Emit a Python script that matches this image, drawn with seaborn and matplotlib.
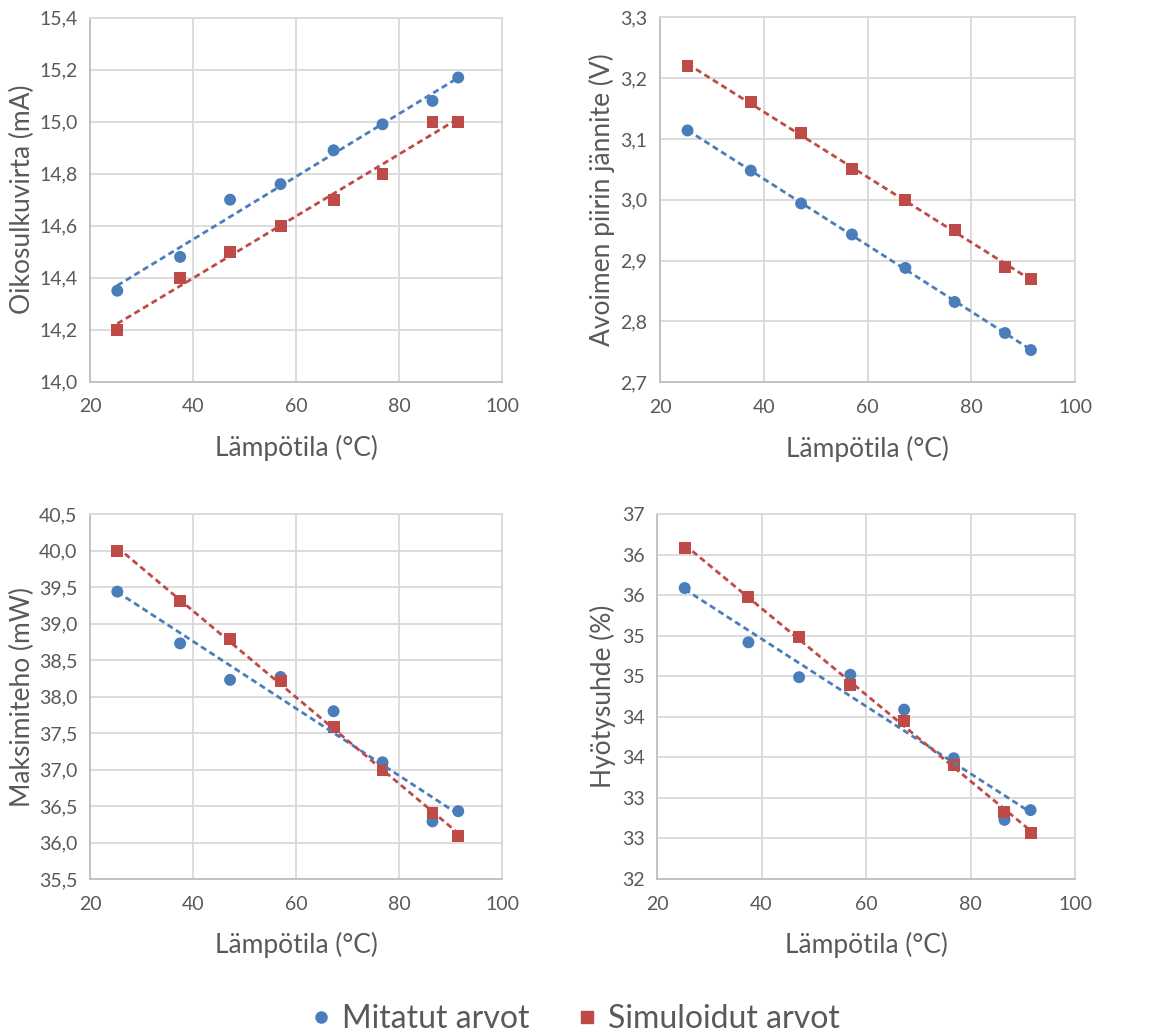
import numpy as np
import pandas as pd
import matplotlib
matplotlib.use("Agg")
import matplotlib.pyplot as plt
from matplotlib.lines import Line2D
import seaborn as sns

# ---------------- data ----------------
temps = [25.3, 37.5, 47.2, 57.0, 67.3, 76.8, 86.5, 91.5]

isc_measured = [14.35, 14.48, 14.70, 14.76, 14.89, 14.99, 15.08, 15.17]
isc_simulated = [14.20, 14.40, 14.50, 14.60, 14.70, 14.80, 15.00, 15.00]

voc_measured = [3.114, 3.048, 2.994, 2.943, 2.888, 2.832, 2.781, 2.753]
voc_simulated = [3.22, 3.16, 3.11, 3.05, 3.00, 2.95, 2.89, 2.87]

pmax_measured = [39.44, 38.73, 38.23, 38.27, 37.80, 37.10, 36.29, 36.43]
pmax_simulated = [40.00, 39.31, 38.79, 38.21, 37.59, 37.00, 36.41, 36.09]

eff_measured = [35.59, 34.92, 34.49, 34.52, 34.09, 33.49, 32.73, 32.85]
eff_simulated = [36.09, 35.48, 34.99, 34.39, 33.95, 33.41, 32.83, 32.57]

series_names = ["Mitatut arvot", "Simuloidut arvot"]
x_label = "Lämpötila (°C)"
y_labels = ["Oikosulkuvirta (mA)", "Avoimen piirin jännite (V)",
            "Maksimiteho (mW)", "Hyötysuhde (%)"]

x_ticks = [20, 40, 60, 80, 100]
y_ticks_1 = [14.0, 14.2, 14.4, 14.6, 14.8, 15.0, 15.2, 15.4]
y_tick_labels_1 = ["14,0", "14,2", "14,4", "14,6", "14,8", "15,0", "15,2", "15,4"]
y_ticks_2 = [2.7, 2.8, 2.9, 3.0, 3.1, 3.2, 3.3]
y_tick_labels_2 = ["2,7", "2,8", "2,9", "3,0", "3,1", "3,2", "3,3"]
y_ticks_3 = [35.5, 36.0, 36.5, 37.0, 37.5, 38.0, 38.5, 39.0, 39.5, 40.0, 40.5]
y_tick_labels_3 = ["35,5", "36,0", "36,5", "37,0", "37,5", "38,0", "38,5",
                   "39,0", "39,5", "40,0", "40,5"]
y_ticks_4 = [32.0, 32.5, 33.0, 33.5, 34.0, 34.5, 35.0, 35.5, 36.0, 36.5]
y_tick_labels_4 = ["32", "33", "33", "34", "34", "35", "35", "36", "36", "37"]

# ---------------- style ----------------
sns.set_theme(style="white")
plt.rcParams["font.family"] = ["Lato", "DejaVu Sans"]

blue = "#4A7EBB"
red = "#BE4B48"
text_color = "#595959"
grid_color = "#D9D9D9"
palette = {series_names[0]: blue, series_names[1]: red}
markers = {series_names[0]: "o", series_names[1]: "s"}

fig = plt.figure(figsize=(11.71, 10.33), dpi=100)

W, H = 1171, 1033
def px_axes(x0, x1, y0, y1):
    return fig.add_axes([x0 / W, 1 - y1 / H, (x1 - x0) / W, (y1 - y0) / H])

ax1 = px_axes(90, 502, 17.7, 381.7)
ax2 = px_axes(660, 1075, 17.3, 382.3)
ax3 = px_axes(90, 502, 514.3, 879)
ax4 = px_axes(657, 1075, 514.3, 879)

panels = [
    (ax1, isc_measured, isc_simulated, y_ticks_1, y_tick_labels_1, y_labels[0], -0.165),
    (ax2, voc_measured, voc_simulated, y_ticks_2, y_tick_labels_2, y_labels[1], -0.14),
    (ax3, pmax_measured, pmax_simulated, y_ticks_3, y_tick_labels_3, y_labels[2], -0.165),
    (ax4, eff_measured, eff_simulated, y_ticks_4, y_tick_labels_4, y_labels[3], -0.13),
]

for ax, meas, sim, yt, ytl, ylab, ylx in panels:
    df = pd.DataFrame({
        "temp": temps + temps,
        "value": list(meas) + list(sim),
        "series": [series_names[0]] * len(temps) + [series_names[1]] * len(temps),
    })
    sns.scatterplot(data=df, x="temp", y="value", hue="series", style="series",
                    palette=palette, markers=markers, s=74, linewidth=0,
                    legend=False, ax=ax, zorder=3)
    for name in series_names:
        sub = df[df["series"] == name]
        sns.regplot(data=sub, x="temp", y="value", scatter=False, ci=None,
                    color=palette[name], ax=ax,
                    line_kws=dict(linestyle=(0, (2.2, 1.4)), linewidth=2.0, zorder=4))
    ax.set_xlim(20, 100)
    ax.set_ylim(yt[0], yt[-1])
    ax.set_xticks(x_ticks)
    ax.set_xticklabels([str(t) for t in x_ticks])
    ax.set_yticks(yt)
    ax.set_yticklabels(ytl)
    ax.grid(True, color=grid_color, linewidth=1.3)
    ax.set_axisbelow(True)
    for side, sp in ax.spines.items():
        sp.set_visible(True)
        sp.set_color(grid_color if side in ("top", "right") else "#BFBFBF")
        sp.set_linewidth(1.3)
    ax.tick_params(axis="both", length=0, labelsize=14, colors=text_color)
    ax.tick_params(axis="x", pad=12)
    ax.tick_params(axis="y", pad=9)
    ax.set_xlabel(x_label, fontsize=19, color=text_color)
    ax.set_ylabel(ylab, fontsize=19, color=text_color)
    ax.xaxis.label.set_va("center")
    ax.xaxis.set_label_coords(0.5, -0.182)
    ax.yaxis.label.set_va("center")
    ax.yaxis.set_label_coords(ylx, 0.5)

handles = [
    Line2D([], [], marker="o", linestyle="none", color=blue, markersize=8, label=series_names[0]),
    Line2D([], [], marker="s", linestyle="none", color=red, markersize=8, label=series_names[1]),
]
fig.legend(handles=handles, loc="center", bbox_to_anchor=(572.5 / W, 1 - 1019 / H), ncol=2,
           frameon=False, fontsize=23, labelcolor=text_color, handletextpad=0.15,
           columnspacing=1.3, handlelength=1.0)

fig.savefig("out.png", dpi=100, facecolor="white")
